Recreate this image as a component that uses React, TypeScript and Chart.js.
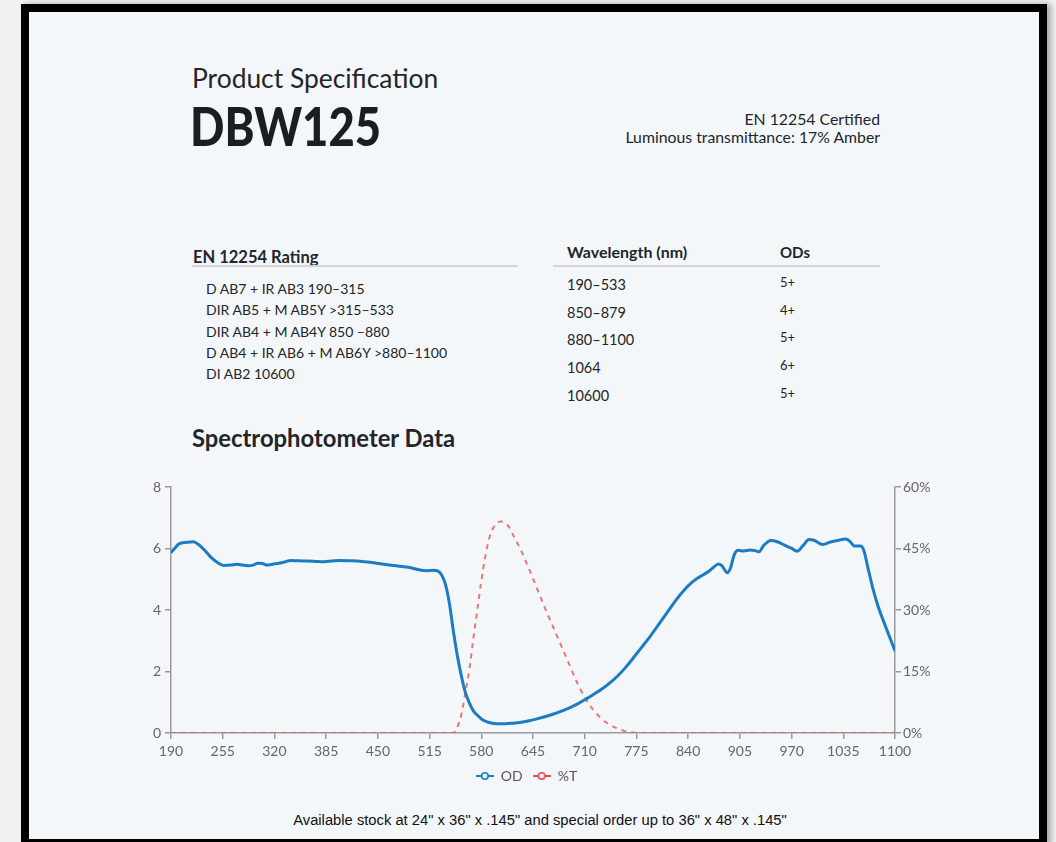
import React, { useEffect, useRef } from "react";
import { Chart, registerables } from "chart.js";

Chart.register(...registerables);

// ---- Data ----
const wavelengthsOD: number[] = [
  190, 195, 200, 210, 218, 225, 232, 240, 248, 256, 265, 273, 280, 287, 293, 299, 305, 311, 318, 327,
  334, 340, 350, 362, 372, 382, 392, 403, 415, 430, 445, 460, 475, 490, 503, 512, 520, 525, 530, 535,
  540, 545, 550, 555, 560, 565, 570, 575, 582, 590, 600, 610, 620, 630, 640, 650, 660, 670, 680, 690,
  700, 712, 722, 732, 742, 752, 762, 772, 782, 793, 803, 814, 824, 834, 844, 852, 860, 866, 872, 878,
  882, 886, 889, 893, 898, 903, 910, 918, 924, 929, 935, 944, 952, 961, 969, 977, 984, 992, 998, 1009,
  1019, 1028, 1038, 1043, 1049, 1057, 1061, 1066, 1072, 1078, 1087, 1100,
];
const odValues: number[] = [
  5.86, 6.02, 6.15, 6.2, 6.22, 6.12, 5.95, 5.72, 5.55, 5.45, 5.46, 5.49, 5.46, 5.44, 5.46, 5.52, 5.51, 5.46, 5.49, 5.53,
  5.57, 5.61, 5.6, 5.59, 5.58, 5.57, 5.59, 5.61, 5.6, 5.58, 5.54, 5.48, 5.43, 5.38, 5.3, 5.28, 5.29, 5.27, 5.15, 4.83,
  4.2, 3.3, 2.5, 1.85, 1.32, 0.98, 0.72, 0.58, 0.42, 0.34, 0.3, 0.3, 0.32, 0.35, 0.4, 0.46, 0.53, 0.61, 0.7, 0.81,
  0.93, 1.11, 1.27, 1.44, 1.64, 1.87, 2.15, 2.47, 2.8, 3.17, 3.53, 3.93, 4.3, 4.62, 4.88, 5.04, 5.16, 5.26, 5.39, 5.5,
  5.45, 5.3, 5.21, 5.35, 5.8, 5.94, 5.92, 5.95, 5.93, 5.89, 6.1, 6.26, 6.22, 6.11, 6.02, 5.91, 6.08, 6.29, 6.27, 6.13,
  6.21, 6.26, 6.31, 6.24, 6.08, 6.08, 5.92, 5.37, 4.72, 4.18, 3.54, 2.67,
];

const wavelengthsT: number[] = [
  190, 300, 400, 500, 545, 550, 555, 560, 565, 570, 575, 580, 585, 590, 595, 600, 605, 610, 615, 620,
  630, 640, 650, 660, 670, 680, 690, 700, 710, 720, 730, 740, 750, 760, 770, 780, 800, 900, 1000, 1100,
];
const transmittance: number[] = [
  0, 0, 0, 0, 0, 1.5, 4.5, 9.9, 15.5, 23, 30, 37, 43, 47.5, 50, 51.3, 51.6, 51.2, 50.2, 48.3,
  44.5, 40, 35.3, 30.5, 26, 21.5, 17, 12.5, 8.7, 5.8, 3.7, 2.2, 1.2, 0.5, 0.15, 0, 0, 0, 0, 0,
];

const xTicks: number[] = [190, 255, 320, 385, 450, 515, 580, 645, 710, 775, 840, 905, 970, 1035, 1100];
const odTicks: number[] = [0, 2, 4, 6, 8];
const tTicks: number[] = [0, 15, 30, 45, 60];

const ratingRows: string[] = [
  "D AB7 + IR AB3 190\u2013315",
  "DIR AB5 + M AB5Y >315\u2013533",
  "DIR AB4 + M AB4Y 850 \u2013880",
  "D AB4 + IR AB6 + M AB6Y >880\u20131100",
  "DI AB2 10600",
];
const wavelengthRows: string[] = ["190\u2013533", "850\u2013879", "880\u20131100", "1064", "10600"];
const odRows: string[] = ["5+", "4+", "5+", "6+", "5+"];

const BLUE = "#1c7cc2";
const RED = "rgba(232, 84, 88, 0.8)";
const BG = "#f4f7fa";
const FONT = "Lato, 'Open Sans', sans-serif";

function legendIcon(color: string): HTMLCanvasElement {
  const c = document.createElement("canvas");
  c.width = 18;
  c.height = 10;
  const ctx = c.getContext("2d")!;
  ctx.strokeStyle = color;
  ctx.lineWidth = 2;
  ctx.beginPath();
  ctx.moveTo(0, 5);
  ctx.lineTo(18, 5);
  ctx.stroke();
  ctx.beginPath();
  ctx.arc(9, 5, 3.2, 0, Math.PI * 2);
  ctx.fillStyle = BG;
  ctx.fill();
  ctx.lineWidth = 1.6;
  ctx.stroke();
  return c;
}

function SpectroChart() {
  const ref = useRef<HTMLCanvasElement | null>(null);
  useEffect(() => {
    if (!ref.current) return;
    const axisColor = "#9a9a9a";
    const tickFont = { family: FONT, size: 14 };
    const chart = new Chart(ref.current, {
      type: "line",
      data: {
        datasets: [
          {
            label: "OD",
            data: wavelengthsOD.map((x, i) => ({ x, y: odValues[i] })),
            borderColor: BLUE,
            backgroundColor: BLUE,
            borderWidth: 3,
            pointRadius: 0,
            pointStyle: legendIcon(BLUE) as any,
            cubicInterpolationMode: "monotone",
            yAxisID: "y",
          },
          {
            label: "%T",
            data: wavelengthsT.map((x, i) => ({ x, y: transmittance[i] })),
            borderColor: RED,
            backgroundColor: RED,
            borderWidth: 2,
            borderDash: [5, 5],
            pointRadius: 0,
            pointStyle: legendIcon("#e04a50") as any,
            cubicInterpolationMode: "monotone",
            yAxisID: "y1",
          },
        ],
      },
      options: {
        responsive: false,
        animation: false,
        devicePixelRatio: 1,
        layout: { padding: { top: 15, bottom: 4, left: 0, right: 0 } },
        plugins: {
          legend: {
            position: "bottom",
            labels: {
              usePointStyle: true,
              pointStyleWidth: 18,
              boxHeight: 10,
              color: "#555",
              font: { family: FONT, size: 14 },
              padding: 10,
            },
          },
          tooltip: { enabled: false },
        },
        scales: {
          x: {
            type: "linear",
            min: 190,
            max: 1100,
            afterBuildTicks: (s: any) => {
              s.ticks = xTicks.map((v) => ({ value: v }));
            },
            afterFit: (s: any) => {
              s.height = 26;
            },
            grid: { drawOnChartArea: false, drawTicks: true, tickLength: 6, color: axisColor, lineWidth: 1.5 },
            border: { color: axisColor, width: 1.5 },
            ticks: {
              color: "#666",
              font: tickFont,
              padding: 4,
              maxRotation: 0,
              autoSkip: false,
              callback: (v: any) => String(v),
            },
          },
          y: {
            type: "linear",
            position: "left",
            min: 0,
            max: 8,
            afterBuildTicks: (s: any) => {
              s.ticks = odTicks.map((v) => ({ value: v }));
            },
            afterFit: (s: any) => {
              s.width = 63;
            },
            grid: { drawOnChartArea: false, drawTicks: true, tickLength: 6, color: axisColor, lineWidth: 1.5 },
            border: { color: axisColor, width: 1.5 },
            ticks: { color: "#666", font: tickFont, padding: 4 },
          },
          y1: {
            type: "linear",
            position: "right",
            min: 0,
            max: 60,
            afterBuildTicks: (s: any) => {
              s.ticks = tTicks.map((v) => ({ value: v }));
            },
            afterFit: (s: any) => {
              s.width = 50;
            },
            grid: { drawOnChartArea: false, drawTicks: true, tickLength: 6, color: axisColor, lineWidth: 1.5 },
            border: { color: axisColor, width: 1.5 },
            ticks: { color: "#666", font: tickFont, padding: 2, callback: (v: any) => v + "%" },
          },
        },
      } as any,
    });
    return () => chart.destroy();
  }, []);
  return (
    <canvas
      ref={ref}
      width={837}
      height={325}
      style={{ position: "absolute", left: 108, top: 472, width: 837, height: 325 }}
    />
  );
}

const abs = (left: number, top: number, extra: React.CSSProperties = {}): React.CSSProperties => ({
  position: "absolute",
  left,
  top,
  whiteSpace: "nowrap",
  ...extra,
});

export default function App() {
  const text = "#22262b";
  return (
    <div
      style={{
        position: "absolute",
        left: 0,
        top: 0,
        width: 1056,
        height: 842,
        overflow: "hidden",
        background: "#f1f1f1",
        fontFamily: FONT,
      }}
    >
      <div
        style={{
          position: "absolute",
          left: 21,
          top: 4,
          width: 1026,
          height: 843,
          boxSizing: "border-box",
          border: "8px solid #000",
          background: BG,
          boxShadow: "4px 0 6px rgba(0,0,0,0.3)",
        }}
      />
      <div style={abs(192, 62, { fontSize: 26.4, lineHeight: "32px", color: text })}>Product Specification</div>
      <div
        style={abs(190, 98, {
          fontSize: 54,
          lineHeight: "56px",
          fontWeight: 900,
          color: "#1a1e24",
          transform: "scaleX(0.84)",
          transformOrigin: "left center",
        })}
      >
        DBW125
      </div>
      <div style={abs(0, 110, { width: 880, textAlign: "right", fontSize: 15.8, lineHeight: "18px", color: text })}>
        EN 12254 Certified
      </div>
      <div style={abs(0, 128, { width: 880, textAlign: "right", fontSize: 15.8, lineHeight: "18px", color: text })}>
        Luminous transmittance: 17% Amber
      </div>

      {/* Rating table */}
      <div style={abs(193, 247, { fontSize: 16.5, lineHeight: "20px", fontWeight: 700, color: text })}>EN 12254 Rating</div>
      <div style={abs(192, 265, { width: 326, height: 2, background: "#d4d6d8" })} />
      {ratingRows.map((r, i) => (
        <div key={r} style={abs(206, 279 + i * 21.3, { fontSize: 14, lineHeight: "20px", color: text })}>
          {r}
        </div>
      ))}

      {/* Wavelength table */}
      <div style={abs(567, 242, { fontSize: 16, lineHeight: "20px", fontWeight: 700, color: text })}>Wavelength (nm)</div>
      <div style={abs(780, 242, { fontSize: 15, lineHeight: "20px", fontWeight: 700, color: text })}>ODs</div>
      <div style={abs(553, 265, { width: 327, height: 2, background: "#d4d6d8" })} />
      {wavelengthRows.map((r, i) => (
        <div key={r} style={abs(567, 275 + i * 27.7, { fontSize: 14.5, lineHeight: "20px", color: text })}>
          {r}
        </div>
      ))}
      {odRows.map((r, i) => (
        <div key={i} style={abs(780, 273 + i * 27.7, { fontSize: 13, lineHeight: "18px", color: text })}>
          {r}
        </div>
      ))}

      <div style={abs(192, 425, { fontSize: 23.8, lineHeight: "26px", fontWeight: 700, color: text })}>
        Spectrophotometer Data
      </div>

      <SpectroChart />

      <div
        style={abs(0, 811, {
          width: 1080,
          textAlign: "center",
          fontFamily: "'Liberation Sans', Arial, sans-serif",
          fontSize: 14.75,
          lineHeight: "18px",
          color: "#111",
        })}
      >
        Available stock at 24" x 36" x .145" and special order up to 36" x 48" x .145"
      </div>
    </div>
  );
}
